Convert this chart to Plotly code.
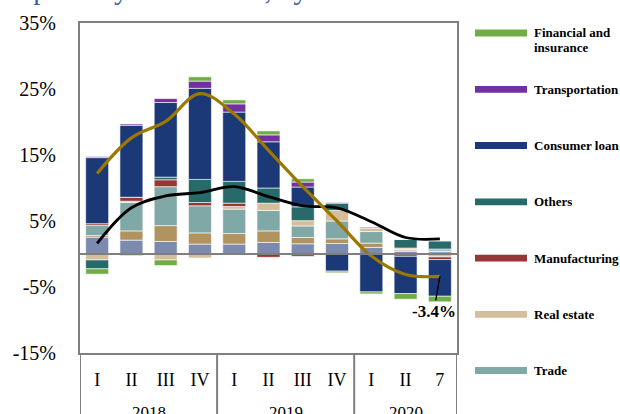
import plotly.graph_objects as go

# Category labels
years = ["2018", "2019", "2020"]
year_spans = [4, 4, 3]
quarters = ["I", "II", "III", "IV", "I", "II", "III", "IV", "I", "II", "7"]

# Contributions to loan growth by sector, percentage points
mining = [2.55, 2.1, 1.9, 1.5, 1.5, 1.75, 1.55, 1.6, 1.0, 0.4, 0.35]
construction = [0.25, 1.4, 2.4, 1.7, 1.6, 1.75, 0.95, 0.7, 0.65, 0.2, 0.1]
trade = [1.55, 4.3, 5.9, 4.1, 3.7, 3.1, 1.75, 2.7, 1.75, 0.1, 0.3]
real_estate = [-0.9, 0.2, -0.9, -0.6, 0.4, 1.1, 0.8, 1.6, 0.5, 0.2, -0.45]
manufacturing = [0.25, 0.6, 1.05, 0.5, 0.5, -0.5, -0.35, 0.0, 0.0, -0.35, -0.4]
others = [-1.35, 0.0, 0.4, 3.5, 3.3, 2.3, 2.1, 1.1, 0.0, 1.3, 1.25]
consumer_loan = [10.0, 10.9, 11.3, 13.8, 10.5, 7.0, 3.0, -2.6, -5.75, -5.65, -5.55]
transportation = [0.15, 0.2, 0.6, 1.1, 1.25, 1.05, 0.75, 0.1, 0.15, 0.0, 0.0]
financial = [-0.8, -0.25, -0.85, 0.65, 0.6, 0.6, 0.5, -0.25, -0.3, -0.85, -0.85]

# Growth lines, %
total_growth = [12.2, 17.6, 20.1, 24.3, 21.2, 15.7, 10.2, 5.0, -0.3, -3.1, -3.4]
business_growth = [1.6, 7.0, 8.8, 9.3, 10.2, 8.7, 7.3, 7.0, 4.9, 2.5, 2.3]

y_ticks = [-15, -5, 5, 15, 25, 35]

# Stack order, bottom to top
sectors = [
    ("Mining", mining, "#7d8ab0"),
    ("Construction", construction, "#b0935f"),
    ("Trade", trade, "#80a8a6"),
    ("Real estate", real_estate, "#d5be99"),
    ("Manufacturing", manufacturing, "#963735"),
    ("Others", others, "#286a6a"),
    ("Consumer loan", consumer_loan, "#1b3877"),
    ("Transportation", transportation, "#7131a0"),
    ("Financial and insurance", financial, "#71ad47"),
]
legend_items = ["Financial and insurance", "Transportation", "Consumer loan",
                "Others", "Manufacturing", "Real estate", "Trade"]

xs = list(range(len(quarters)))

fig = go.Figure()
for name, vals, color in sectors:
    fig.add_trace(go.Bar(
        x=xs, y=vals, name=name, showlegend=False,
        marker=dict(color=color, line=dict(color="rgba(255,255,255,0.75)", width=0.8)),
    ))

fig.add_trace(go.Scatter(
    x=xs, y=business_growth, mode="lines", name="Business loans", showlegend=False,
    line=dict(color="#000000", width=2.8, shape="spline", smoothing=1.0),
))
fig.add_trace(go.Scatter(
    x=xs, y=total_growth, mode="lines", name="Total loans", showlegend=False,
    line=dict(color="#9c7800", width=3.2, shape="spline", smoothing=1.0),
))

# Plot-area geometry in pixels
W_FIG, H_FIG = 620, 414
L, R, T, B = 80, 457, 23, 353


def px_x(px):
    return (px - L) / (R - L)


def px_y(py):
    return (B - py) / (B - T)


serif = "Liberation Serif"
grey = "#7f7f7f"

shapes = []
annotations = []

# Zero line over the bars
shapes.append(dict(type="line", xref="paper", yref="y", x0=0, x1=1, y0=0, y1=0,
                   line=dict(color=grey, width=2), layer="above"))

# Category table: vertical dividers running below the plot area
edges = [-0.5]
for span in year_spans:
    edges.append(edges[-1] + span)
for e in edges:
    shapes.append(dict(type="line", xref="x", yref="paper", x0=e, x1=e,
                       y0=0, y1=px_y(H_FIG + 5), line=dict(color=grey, width=2)))

# Year labels centred under each group
start = -0.5
for yr, span in zip(years, year_spans):
    annotations.append(dict(xref="x", yref="paper", x=start + span / 2, y=px_y(412),
                            text=yr, showarrow=False, xanchor="center", yanchor="middle",
                            font=dict(family=serif, size=17, color="#000")))
    start += span

# Legend drawn as wide swatches with bold labels
color_of = {n: c for n, _, c in sectors}
legend_y = [33, 89.3, 145.5, 201.8, 258.2, 314.4, 370.5]
for name, ly in zip(legend_items, legend_y):
    shapes.append(dict(type="rect", xref="paper", yref="paper",
                       x0=px_x(475), x1=px_x(527), y0=px_y(ly + 3.4), y1=px_y(ly - 3.4),
                       fillcolor=color_of[name], line=dict(width=0)))
    if name == "Financial and insurance":
        lines = [("Financial and", ly), ("insurance", ly + 14)]
    else:
        lines = [(name, ly)]
    for txt, ty in lines:
        annotations.append(dict(xref="paper", yref="paper", x=px_x(532), y=px_y(ty),
                                text="<b>" + txt + "</b>", showarrow=False,
                                xanchor="left", yanchor="middle",
                                font=dict(family=serif, size=13, color="#000")))

# Value call-out for the latest total growth
annotations.append(dict(xref="x", yref="y", x=xs[-1], y=total_growth[-1],
                        text="<b>%.1f%%</b>" % total_growth[-1],
                        showarrow=True, arrowhead=0, arrowwidth=1.4, arrowcolor="#000",
                        ax=-6, ay=35, standoff=0,
                        font=dict(family=serif, size=17, color="#000")))

# Heading line at the top edge
annotations.append(dict(xref="paper", yref="paper", x=px_x(4), y=px_y(-10.5),
                        text="depository institutions, by sectors", showarrow=False,
                        xanchor="left", yanchor="middle",
                        font=dict(family=serif, size=29, color="#3d5fa3")))

fig.update_layout(
    width=W_FIG, height=H_FIG,
    margin=dict(l=L, r=W_FIG - R, t=T, b=H_FIG - B, pad=0),
    paper_bgcolor="#ffffff", plot_bgcolor="#ffffff",
    barmode="relative", bargap=0.33,
    showlegend=False,
    shapes=shapes, annotations=annotations,
)
fig.update_xaxes(
    range=[-0.5, len(quarters) - 0.5], tickmode="array", tickvals=xs, ticktext=quarters,
    showgrid=False, zeroline=False, showline=True, mirror=True,
    linecolor=grey, linewidth=2, ticks="", ticklabelstandoff=9,
    tickfont=dict(family=serif, size=18, color="#000"),
)
fig.update_yaxes(
    range=[-15, 35], tickmode="array", tickvals=y_ticks,
    ticktext=["%d%%" % v for v in y_ticks],
    showgrid=False, zeroline=False, showline=True, mirror=True,
    linecolor=grey, linewidth=2, ticks="", ticklabelstandoff=18,
    tickfont=dict(family=serif, size=20, color="#000"),
)

fig.write_html("out.html")
